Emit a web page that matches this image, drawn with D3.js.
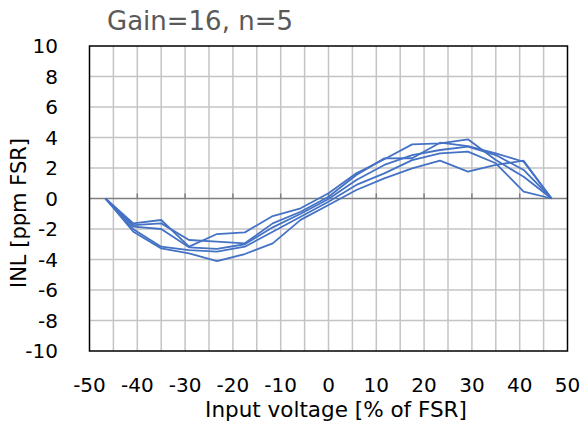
<!DOCTYPE html>
<html>
<head>
<meta charset="utf-8">
<script src="https://cdn.jsdelivr.net/npm/d3@7"></script>
<style>
  html, body { margin: 0; padding: 0; background: #fff; }
  svg { display: block; }
  text { font-family: "DejaVu Sans", Verdana, sans-serif; }
</style>
</head>
<body>
<script>
// ---- data ----
const chartTitle = "Gain=16, n=5";
const xTitle = "Input voltage [% of FSR]";
const yTitle = "INL [ppm FSR]";
const xTickValues = [-50, -40, -30, -20, -10, 0, 10, 20, 30, 40, 50];
const yTickValues = [-10, -8, -6, -4, -2, 0, 2, 4, 6, 8, 10];
const inputVoltage = [-46.67, -40.83, -35, -29.17, -23.33, -17.5, -11.67, -5.83, 0, 5.83, 11.67, 17.5, 23.33, 29.17, 35, 40.83, 46.67];
const run1 = [0, -1.63, -1.41, -3.16, -2.33, -2.22, -1.15, -0.64, 0.34, 1.65, 2.57, 3.55, 3.62, 3.88, 2.52, 1.43, 0];
const run2 = [0, -1.74, -1.63, -2.72, -2.83, -2.94, -1.63, -0.87, 0.12, 1.54, 2.63, 2.64, 3.66, 3.44, 2.96, 2.41, 0];
const run3 = [0, -1.85, -2.00, -3.20, -3.30, -3.00, -1.89, -1.00, -0.03, 1.21, 2.20, 2.85, 3.18, 3.40, 2.85, 1.87, 0];
const run4 = [0, -2.02, -3.16, -3.38, -3.49, -3.16, -2.18, -1.20, -0.21, 0.89, 1.65, 2.52, 2.96, 3.07, 2.31, 0.45, 0];
const run5 = [0, -2.18, -3.27, -3.60, -4.10, -3.64, -2.94, -1.40, -0.43, 0.56, 1.32, 1.98, 2.48, 1.76, 2.20, 2.48, 0];
const runs = [run1, run2, run3, run4, run5];

// ---- layout ----
const W = 582, H = 425;
const svg = d3.select("body").append("svg").attr("width", W).attr("height", H);
const x = d3.scaleLinear().domain([-50, 50]).range([89.5, 567.5]);
const y = d3.scaleLinear().domain([-10, 10]).range([351, 46]);

// grid
const g = svg.append("g");
g.selectAll("line.vg").data(d3.range(-45, 50, 5)).join("line")
  .attr("x1", d => x(d)).attr("x2", d => x(d))
  .attr("y1", y(10)).attr("y2", y(-10))
  .attr("stroke", "#c4c4c4").attr("stroke-width", 1.5);
g.selectAll("line.hg").data(yTickValues.filter(v => v > -10 && v < 10 && v !== 0)).join("line")
  .attr("x1", x(-50)).attr("x2", x(50))
  .attr("y1", d => y(d)).attr("y2", d => y(d))
  .attr("stroke", "#c4c4c4").attr("stroke-width", 1.5);

// zero axis line with ticks
g.append("line").attr("x1", x(-50)).attr("x2", x(50)).attr("y1", y(0)).attr("y2", y(0))
  .attr("stroke", "#7f7f7f").attr("stroke-width", 1.5);
g.selectAll("line.tk").data(xTickValues.filter(v => v > -50 && v < 50)).join("line")
  .attr("x1", d => x(d)).attr("x2", d => x(d))
  .attr("y1", y(0)).attr("y2", y(0) - 5)
  .attr("stroke", "#7f7f7f").attr("stroke-width", 1.5);

// lines
const line = d3.line().x((d, i) => x(inputVoltage[i])).y(d => y(d));
svg.append("g").selectAll("path").data(runs).join("path")
  .attr("d", line).attr("fill", "none")
  .attr("stroke", "#4472C4").attr("stroke-width", 1.8).attr("stroke-linejoin", "round");

// frame
svg.append("rect").attr("x", x(-50)).attr("y", y(10))
  .attr("width", x(50) - x(-50)).attr("height", y(-10) - y(10))
  .attr("fill", "none").attr("stroke", "#000").attr("stroke-width", 1.5);

// tick labels
svg.append("g").selectAll("text").data(xTickValues).join("text")
  .attr("x", d => x(d)).attr("y", 392)
  .attr("text-anchor", "middle").attr("font-size", 20).attr("fill", "#000")
  .text(d => d);
svg.append("g").selectAll("text").data(yTickValues).join("text")
  .attr("x", 58).attr("y", d => y(d)).attr("dy", "0.36em")
  .attr("text-anchor", "end").attr("font-size", 20).attr("fill", "#000")
  .text(d => d);

// titles
svg.append("text").attr("x", 107).attr("y", 30).attr("font-size", 26).attr("fill", "#595959")
  .text(chartTitle);
svg.append("text").attr("x", 336).attr("y", 417).attr("text-anchor", "middle")
  .attr("font-size", 21.5).attr("fill", "#000").text(xTitle);
svg.append("text").attr("transform", "translate(26,213) rotate(-90)").attr("text-anchor", "middle")
  .attr("font-size", 21).attr("fill", "#000").text(yTitle);
</script>
</body>
</html>
